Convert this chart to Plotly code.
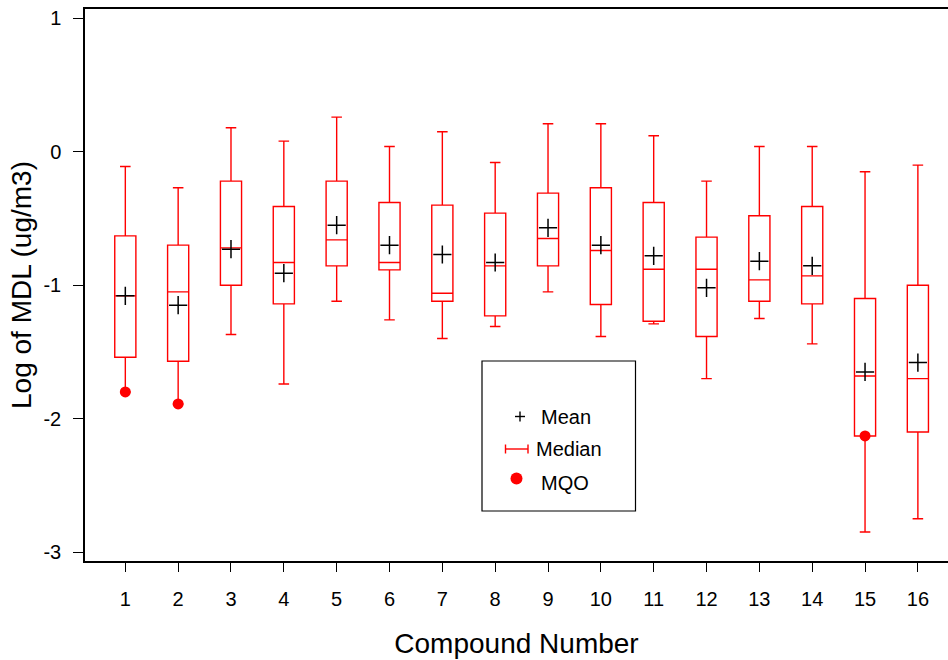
import plotly.graph_objects as go

# Log10 method detection limits per compound (box statistics)
compounds = list(range(1, 17))
upper_whisker = [-0.11, -0.27, 0.18, 0.08, 0.26, 0.04, 0.15, -0.08, 0.21, 0.21, 0.12, -0.22, 0.04, 0.04, -0.15, -0.10]
q3 = [-0.63, -0.70, -0.22, -0.41, -0.22, -0.38, -0.40, -0.46, -0.31, -0.27, -0.38, -0.64, -0.48, -0.41, -1.10, -1.00]
median = [-1.08, -1.05, -0.72, -0.83, -0.66, -0.83, -1.06, -0.855, -0.65, -0.74, -0.88, -0.88, -0.96, -0.93, -1.68, -1.70]
mean = [-1.08, -1.15, -0.73, -0.91, -0.55, -0.70, -0.77, -0.83, -0.57, -0.70, -0.78, -1.02, -0.82, -0.855, -1.65, -1.58]
q1 = [-1.54, -1.57, -1.00, -1.14, -0.855, -0.885, -1.12, -1.23, -0.855, -1.145, -1.27, -1.385, -1.12, -1.14, -2.13, -2.10]
lower_whisker = [-1.80, -1.89, -1.37, -1.74, -1.12, -1.26, -1.40, -1.31, -1.05, -1.385, -1.29, -1.70, -1.25, -1.44, -2.85, -2.75]

# Measurement quality objectives available for three compounds
mqo_compounds = [1, 2, 15]
mqo_values = [-1.80, -1.89, -2.13]

x_ticks = list(range(1, 17))
y_ticks = [-3, -2, -1, 0, 1]

RED = "#ff0000"
FONT = "Liberation Sans, Arial, sans-serif"

fig = go.Figure()

fig.add_trace(go.Box(
    x=compounds,
    q1=q1, median=median, q3=q3,
    lowerfence=lower_whisker, upperfence=upper_whisker,
    width=0.4, whiskerwidth=0.5,
    line=dict(color=RED, width=1.4),
    fillcolor="rgba(255,255,255,0)",
    boxpoints=False,
    hoverinfo="skip",
    showlegend=False,
))

fig.add_trace(go.Scatter(
    x=compounds, y=mean, mode="markers",
    marker=dict(symbol="cross-thin", size=13, color="black",
                line=dict(color="black", width=1.5)),
    showlegend=False,
))

fig.add_trace(go.Scatter(
    x=mqo_compounds, y=mqo_values, mode="markers",
    marker=dict(symbol="circle", size=11, color=RED, line=dict(width=0)),
    showlegend=False,
))

# Plot-area geometry in pixels, used to place the hand-drawn key
L, R, T, B = 85, 948, 9, 561


def px(x):
    return (x - L) / (R - L)


def py(y):
    return (B - y) / (B - T)


shapes = [
    # key frame
    dict(type="rect", xref="paper", yref="paper",
         x0=px(482), x1=px(635.5), y0=py(511), y1=py(361),
         line=dict(color="black", width=1.2), fillcolor="white", layer="below"),
    # mean symbol
    dict(type="line", xref="paper", yref="paper",
         x0=px(515), x1=px(525), y0=py(416.5), y1=py(416.5),
         line=dict(color="black", width=1.4)),
    dict(type="line", xref="paper", yref="paper",
         x0=px(520), x1=px(520), y0=py(411.5), y1=py(421.5),
         line=dict(color="black", width=1.4)),
    # median symbol
    dict(type="line", xref="paper", yref="paper",
         x0=px(505.5), x1=px(528), y0=py(449), y1=py(449),
         line=dict(color=RED, width=1.4)),
    dict(type="line", xref="paper", yref="paper",
         x0=px(505.5), x1=px(505.5), y0=py(444.5), y1=py(453.5),
         line=dict(color=RED, width=1.4)),
    dict(type="line", xref="paper", yref="paper",
         x0=px(528), x1=px(528), y0=py(444.5), y1=py(453.5),
         line=dict(color=RED, width=1.4)),
    # MQO symbol
    dict(type="circle", xref="paper", yref="paper",
         x0=px(510.5), x1=px(522.5), y0=py(472.5), y1=py(484.5),
         line=dict(width=0), fillcolor=RED),
]

annotations = [
    dict(text="Mean", x=px(539), y=py(417), xref="paper", yref="paper",
         xanchor="left", yanchor="middle", showarrow=False,
         font=dict(family=FONT, size=20, color="black")),
    dict(text="Median", x=px(534), y=py(449), xref="paper", yref="paper",
         xanchor="left", yanchor="middle", showarrow=False,
         font=dict(family=FONT, size=20, color="black")),
    dict(text="MQO", x=px(539), y=py(483), xref="paper", yref="paper",
         xanchor="left", yanchor="middle", showarrow=False,
         font=dict(family=FONT, size=20, color="black")),
]

fig.update_layout(
    width=948, height=660,
    margin=dict(l=L, r=948 - R, t=T, b=660 - B, pad=0),
    paper_bgcolor="white", plot_bgcolor="white",
    font=dict(family=FONT, color="black", size=20),
    shapes=shapes, annotations=annotations,
    showlegend=False,
)

fig.update_xaxes(
    range=[0.237, 16.57],
    tickmode="array", tickvals=x_ticks, ticktext=[str(v) for v in x_ticks],
    ticks="outside", ticklen=9, tickwidth=1.3, tickcolor="black",
    showline=True, linecolor="black", linewidth=1.5, mirror=True,
    showgrid=False, zeroline=False,
    ticklabelstandoff=10,
    tickfont=dict(family=FONT, size=20),
    title=dict(text="Compound Number", font=dict(family=FONT, size=28), standoff=25),
)

fig.update_yaxes(
    range=[-3.067, 1.07],
    tickmode="array", tickvals=y_ticks, ticktext=[str(v) for v in y_ticks],
    ticks="outside", ticklen=10, tickwidth=1.3, tickcolor="black",
    showline=True, linecolor="black", linewidth=1.5, mirror=False,
    showgrid=False, zeroline=False,
    ticklabelstandoff=8,
    tickfont=dict(family=FONT, size=20),
    title=dict(text="Log of MDL (ug/m3)", font=dict(family=FONT, size=28), standoff=4),
)

fig.write_html("out.html")
